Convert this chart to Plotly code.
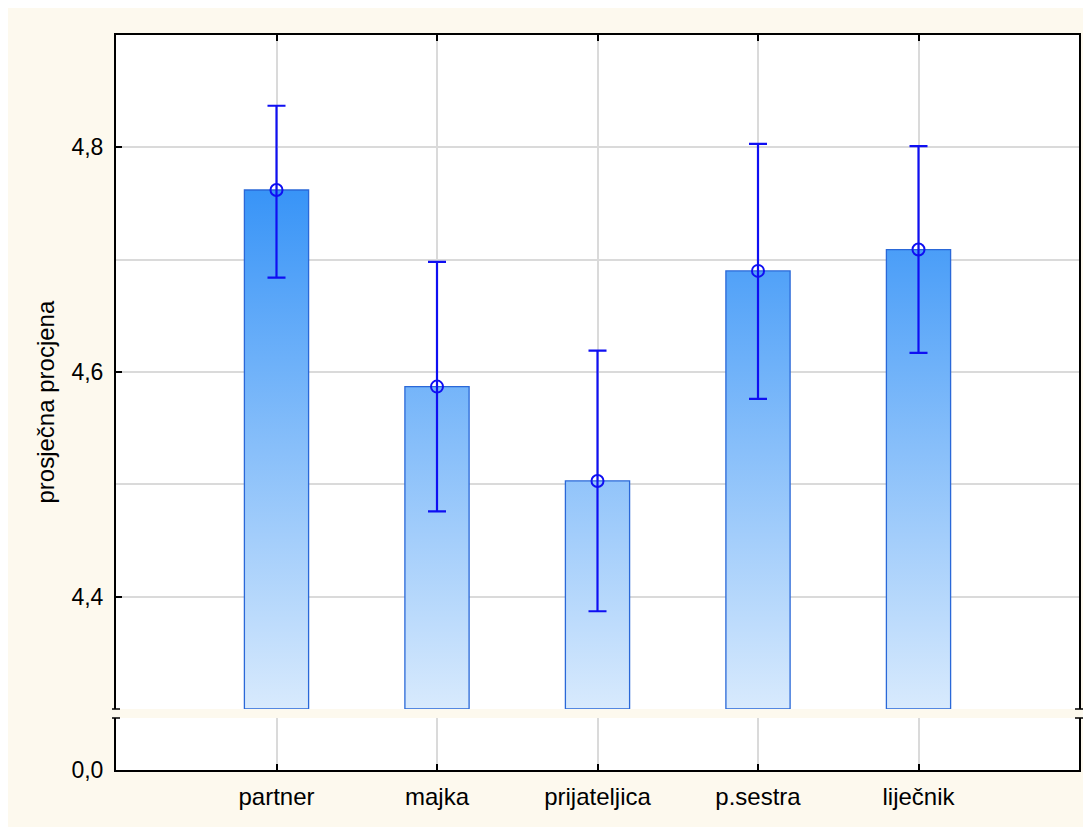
import plotly.graph_objects as go

# ---- data ----
categories = ["partner", "majka", "prijateljica", "p.sestra", "liječnik"]
means = [4.762, 4.587, 4.503, 4.690, 4.709]
ci_upper = [4.837, 4.698, 4.619, 4.803, 4.801]
ci_lower = [4.684, 4.476, 4.387, 4.576, 4.617]
y_ticks_low = [0.0]

# ---- styling constants ----
BASE = 4.3
HALF_W = 0.2
BLUE = "#0F0FF2"
GRID = "#DADADA"
CREAM = "#FDF9EE"
FONT = "Liberation Sans, Arial, sans-serif"

idx = list(range(len(categories)))

fig = go.Figure()

# bars with vertical gradient (upper panel)
for i, m in zip(idx, means):
    fig.add_trace(go.Scatter(
        x=[i - HALF_W, i + HALF_W, i + HALF_W, i - HALF_W, i - HALF_W],
        y=[BASE, BASE, m, m, BASE],
        xaxis="x2", yaxis="y",
        mode="lines", fill="toself",
        fillgradient=dict(type="vertical",
                          colorscale=[[0, "rgb(216,234,253)"], [1, "rgb(56,148,247)"]],
                          start=BASE, stop=max(means)),
        line=dict(color="rgb(42,104,216)", width=1.3),
        hoverinfo="skip", showlegend=False,
    ))

# means with error bars
fig.add_trace(go.Scatter(
    x=idx, y=means, xaxis="x2", yaxis="y",
    mode="markers",
    marker=dict(symbol="circle-open", size=12, color=BLUE, line=dict(width=2, color=BLUE)),
    error_y=dict(type="data", symmetric=False,
                 array=[u - m for u, m in zip(ci_upper, means)],
                 arrayminus=[m - l for l, m in zip(ci_lower, means)],
                 color=BLUE, thickness=2.2, width=9),
    showlegend=False,
))

# invisible trace to draw lower panel
fig.add_trace(go.Scatter(x=idx, y=[None] * len(idx), xaxis="x", yaxis="y2",
                         mode="markers", showlegend=False, hoverinfo="skip"))

upper_bottom = (762 - 701) / 735
lower_top = (762 - 710) / 735

axis_common = dict(showline=True, linecolor="black", linewidth=2,
                   ticks="inside", ticklen=6, tickcolor="black", tickwidth=1.5,
                   showgrid=True, gridcolor=GRID, gridwidth=1.5, zeroline=False)

fig.update_layout(
    width=1083, height=819,
    margin=dict(l=108, r=10, t=27, b=57),
    paper_bgcolor=CREAM, plot_bgcolor="white",
    separators=", ",
    font=dict(family=FONT, size=23, color="black"),
    xaxis=dict(domain=[0, 1], anchor="y2", range=[-1, 5],
               tickvals=idx, ticktext=categories, side="bottom",
               tickfont=dict(size=24), ticklabelstandoff=4, **axis_common),
    xaxis2=dict(domain=[0, 1], anchor="y", matches="x", range=[-1, 5],
                tickvals=idx, side="top", showticklabels=False, **axis_common),
    yaxis=dict(domain=[upper_bottom, 1], anchor="x2", range=[BASE, 4.9],
               tick0=0, dtick=0.2, tickformat=".1f", mirror=True,
               minor=dict(dtick=0.1, showgrid=True, gridcolor=GRID, gridwidth=1.5, ticks=""),
               ticklabelstandoff=6, tickfont=dict(size=23), **axis_common),
    yaxis2=dict(domain=[0, lower_top], anchor="x", range=[0, 0.05],
                tickvals=y_ticks_low, tickformat=".1f", mirror=True,
                ticklabelstandoff=6, tickfont=dict(size=23), **axis_common),
    annotations=[dict(text="prosječna procjena", xref="paper", yref="paper",
                      x=0, y=0.5, xshift=-71, textangle=-90, showarrow=False,
                      xanchor="center", yanchor="middle",
                      font=dict(size=24, family=FONT, color="black"))],
)

shapes = []
# axis break marks
for yb in (upper_bottom, lower_top):
    for xa in (0, 1):
        shapes.append(dict(type="line", xref="paper", yref="paper",
                           xsizemode="pixel", xanchor=xa, x0=-4, x1=4,
                           y0=yb, y1=yb, line=dict(color="black", width=1.5)))
fig.update_layout(shapes=shapes)

fig.write_html("out.html")
